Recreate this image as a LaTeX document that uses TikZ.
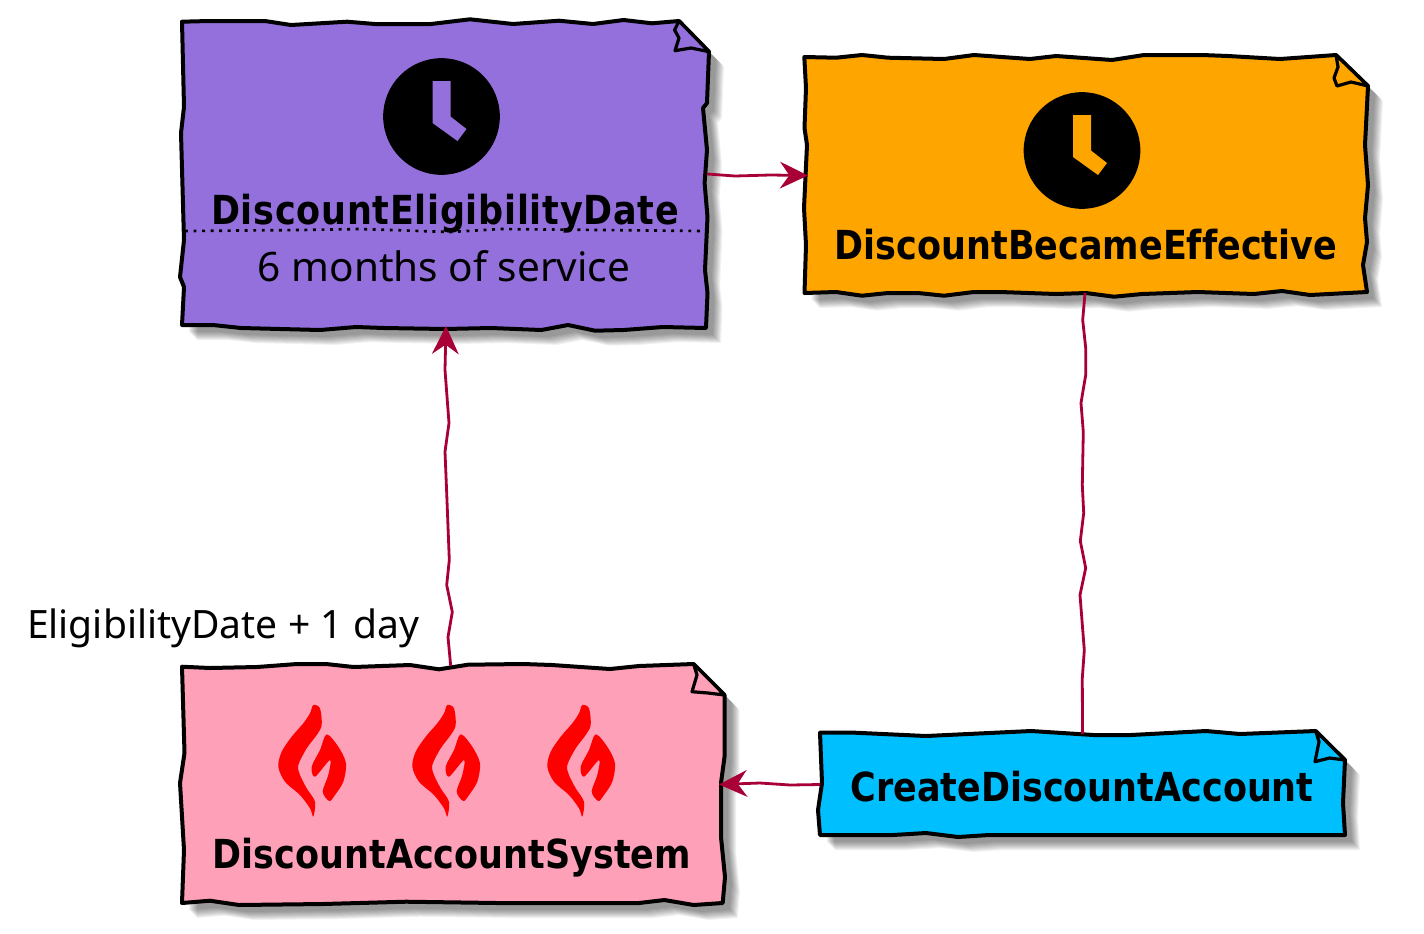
\documentclass[tikz,border=0pt]{standalone}
\usepackage{fontspec}
\setmainfont{Noto Sans}
\newfontfamily\titlefont[FakeStretch=0.875,Ligatures=NoCommon]{DejaVu Sans}
\usetikzlibrary{arrows.meta}

\definecolor{linkred}{HTML}{A80036}
\definecolor{eligpurple}{HTML}{9370DB}
\definecolor{becameorange}{HTML}{FFA500}
\definecolor{acctpink}{HTML}{FFA0B9}
\definecolor{createblue}{HTML}{00BFFF}

% outline, fold, fill colour
\newcommand{\notebody}[3]{
  \foreach \d in {7,...,15}
    \fill[black,opacity=0.055,shift={(\d,\d)}] #1 -- cycle;
  \filldraw[noteline,fill=#3] #1 -- cycle;
  \filldraw[noteline,line width=2.4pt,fill=#3] #2;
}
% hand of the clock, on the colour of the note
\newcommand{\clockhand}[2]{
  \fill[#2,shift={(#1)}] (-9,-35.5) -- (9,-35.5) -- (9,0) -- (25,12.5) -- (16,24.5) -- (-9,6.5) -- cycle;
}

\begin{document}
\begin{tikzpicture}[x=0.75pt,y=-0.75pt]
\tikzstyle{noteline}=[draw=black,line width=3pt,line join=round]
\tikzstyle{notebox}=[inner sep=0pt,outer sep=0pt]
\tikzstyle{title}=[anchor=base,inner sep=0pt,font=\fontsize{30}{36}\selectfont\titlefont\bfseries]
\tikzstyle{plain}=[anchor=base,inner sep=0pt,font=\fontsize{30.4}{36}\selectfont]
\tikzstyle{clock}=[circle,fill=black,inner sep=0pt,minimum size=87.5pt]
\tikzstyle{link}=[draw=linkred,line width=2.1pt,line join=round]
\tikzstyle{linkhead}=[-{Stealth[length=21pt,width=20pt,inset=7pt,color=linkred]}]
\useasboundingbox (0,0) rectangle (1424,933);

\notebody{(182,21.7) -- (209,21) -- (265,21) -- (291,25) -- (347,21.7) -- (375,24) -- (431,24) -- (470,19.3) -- (513,24) -- (559,20.7) -- (593,24) -- (623.6,20) -- (652,23.3) -- (679,21) -- (709,51.7) -- (707,103) -- (703,108) -- (707,150) -- (704.6,183) -- (707.5,217) -- (705,270) -- (707.5,293) -- (706,328) -- (663,327) -- (623.6,330) -- (595,330.7) -- (568,325) -- (541.4,330) -- (491,328) -- (445,329) -- (384,328) -- (356,327) -- (320,330) -- (241,328) -- (213,325) -- (182,325) -- (184,287) -- (180,277) -- (184,240) -- (181,133) -- (184,107)}
{(679,21) -- (674.6,30) -- (679,38) -- (675,50.7) -- (691,48) -- (709,51.7) -- cycle}{eligpurple}

\notebody{(804.3,57) -- (836,57.7) -- (862,55) -- (888,57.7) -- (944,59) -- (974,55) -- (1030,59) -- (1056,56) -- (1112,60) -- (1144,55) -- (1172,55) -- (1202,55) -- (1228,56) -- (1280,59) -- (1336,55) -- (1368,86) -- (1365,145) -- (1368,185) -- (1365,218) -- (1367,242) -- (1363,265) -- (1367,292) -- (1310,295) -- (1282,291) -- (1254,294) -- (1198,292) -- (1142,294) -- (1114,296.7) -- (1086,293) -- (1056,294) -- (1000,292) -- (974,292) -- (944,295.7) -- (918,293) -- (888,293) -- (862,295.7) -- (836,292) -- (804.5,293) -- (806,245) -- (804,208) -- (807,145) -- (804.5,128) -- (806,88)}
{(1336,55) -- (1338,67) -- (1334,78) -- (1337,86) -- (1351,82) -- (1368,86) -- cycle}{becameorange}

\notebody{(182,666.7) -- (210,668) -- (257,667) -- (297,664) -- (326,664) -- (353.6,667) -- (410,665) -- (439,669.3) -- (468,664.7) -- (523,664) -- (552,665) -- (610,669) -- (639,666) -- (693.6,664) -- (724.5,695) -- (724.5,757) -- (721,783) -- (721,837) -- (725,877) -- (722.7,903) -- (693.6,905) -- (664.5,900) -- (639,903) -- (577,903) -- (497,903) -- (406,901.7) -- (323,904) -- (239,905) -- (210,900.7) -- (182,903) -- (184,850) -- (180,783) -- (184.5,753)}
{(693.6,664) -- (697,675) -- (692,691.7) -- (708,693) -- (724.5,695) -- cycle}{acctpink}

\notebody{(820,732.7) -- (855,732.7) -- (926,736) -- (1031,731) -- (1093.5,735) -- (1131,735) -- (1206,731) -- (1240,734) -- (1315.7,731) -- (1345,760) -- (1343,803) -- (1345,835) -- (1315,835) -- (989,835) -- (958,837) -- (926,833) -- (893,835) -- (820,835) -- (818,810) -- (822,783)}
{(1315.7,731) -- (1319,741.7) -- (1315,761.7) -- (1329.5,758) -- (1345,760) -- cycle}{createblue}

\node[notebox,minimum width=391.5pt,minimum height=228pt](elig) at (446,174) {};
\node[notebox,minimum width=415.5pt,minimum height=176.25pt](became) at (1085,175.5) {};
\node[notebox,minimum width=402.45pt,minimum height=177.75pt](acct) at (450.7,784.5) {};
\node[notebox,minimum width=393.75pt,minimum height=75.75pt](create) at (1082.5,784.5) {};

\node[clock](clockA) at (441.5,116.5) {};
\clockhand{clockA}{eligpurple}
\node[clock](clockB) at (1082,150.5) {};
\clockhand{clockB}{becameorange}

\foreach \fx in {0,134,269}{
  \fill[red,shift={(270+\fx,695)}] plot[smooth cycle,tension=0.5] coordinates {(43.3,10) (50,13.3) (51.7,30) (46.7,40) (36.7,53.3) (28.3,70) (30,80) (36.7,93.3) (45,106.7) (43.3,121.7) (40,113.3) (30,100) (15,86.7) (8.3,71.7) (11.7,56.7) (21.7,41.7) (33.3,28.3) (40,18.3)};
  \fill[red,shift={(270+\fx,695)}] plot[smooth cycle,tension=0.5] coordinates {(56.7,39.3) (68.3,51.7) (76,68.3) (73.3,86.7) (65,100) (59.3,106) (52.7,96.7) (58.3,80) (60,65) (45,81.7) (41.7,71.7) (50,55)};
}

\node[title](eligname) at (445,224) {\addfontfeature{LetterSpace=1.8}DiscountEligibilityDate};
\node[plain](eligtext) at (444,281) {6 months of service};
\node[title](becamename) at (1086,259) {DiscountBecameEffective};
\node[title](acctname) at (452,868) {DiscountAccountSystem};
\node[title](createname) at (1082,801) {CreateDiscountAccount};
\node[plain,font=\fontsize{29.3}{36}\selectfont](daylabel) at (223,638) {EligibilityDate + 1 day};

\draw[black,line width=2pt,dash pattern=on 2.2pt off 4.2pt] (185,231) -- (300,230) -- (360,229) -- (450,232) -- (500,229) -- (700,231);

\draw[link,linkhead] (acct.north) -- (448,637) -- (452.3,612) -- (446.7,585) -- (449.3,560) -- (446.7,493) -- (445,451.7) -- (449,423) -- (445,370) -- (elig.south);
\draw[link,linkhead] (elig.east) -- (735,176) -- (770,175) -- (became.west);
\draw[link] (became.south) -- (1082.7,320) -- (1085.7,348) -- (1085.7,375) -- (1081,403) -- (1083.3,432) -- (1082.3,485) -- (1083.7,513) -- (1080.3,541) -- (1085.7,568) -- (1080,595) -- (1084.3,650) -- (1082.3,678) -- (create.north);
\draw[link,linkhead] (create.west) -- (790,785) -- (760,783) -- (acct.east);
\end{tikzpicture}
\end{document}
